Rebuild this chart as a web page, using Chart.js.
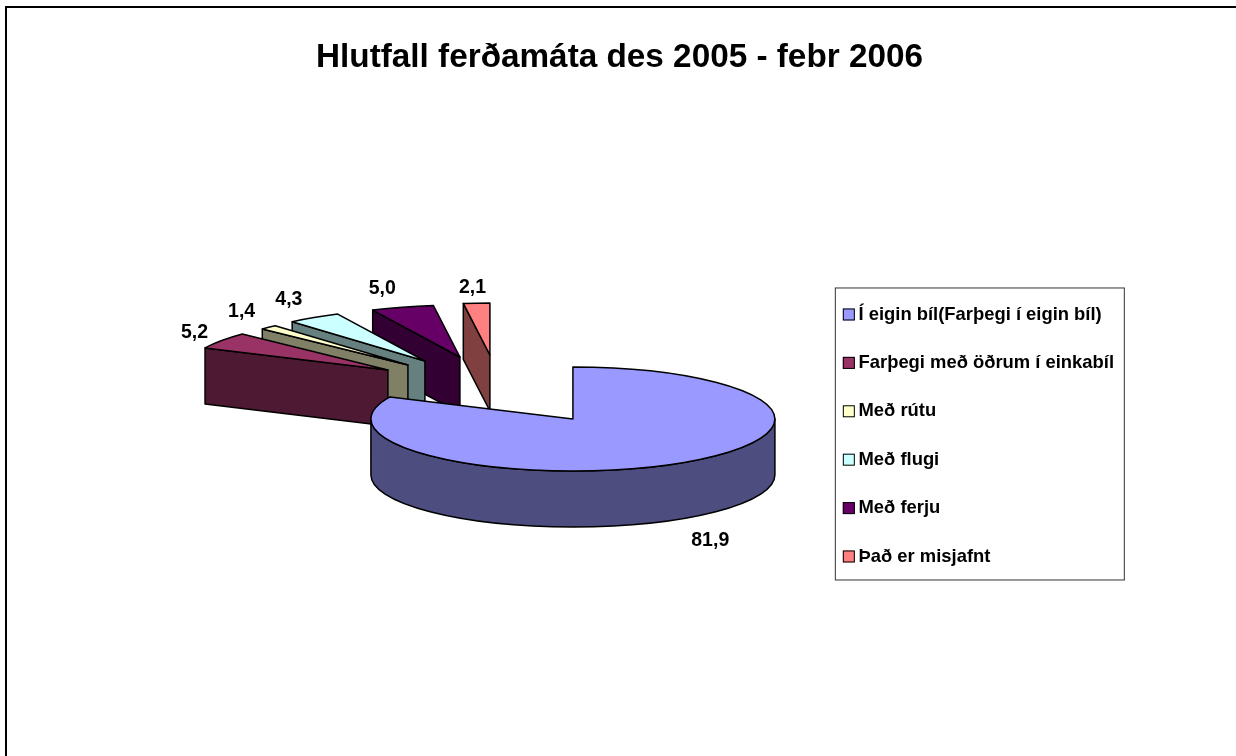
<!DOCTYPE html>
<html>
<head>
<meta charset="utf-8">
<style>
  html, body { margin: 0; padding: 0; background: #fff; }
  #wrap { width: 1236px; height: 756px; }
</style>
<script src="https://cdn.jsdelivr.net/npm/chart.js@4"></script>
</head>
<body>
<div id="wrap"><canvas id="myChart" width="1236" height="756"></canvas></div>
<script>
const categories = ['Í eigin bíl(Farþegi í eigin bíl)', 'Farþegi með öðrum í einkabíl', 'Með rútu', 'Með flugi', 'Með ferju', 'Það er misjafnt'];
const shares = [81.9, 5.2, 1.4, 4.3, 5.0, 2.1];
const chartTitle = 'Hlutfall ferðamáta des 2005 - febr 2006';

const topColors = ['#9999FF', '#993366', '#FFFFCC', '#CCFFFF', '#660066', '#FF8080'];
const sideColors = ['#4D4D80', '#4D1933', '#808066', '#668080', '#330033', '#804040'];

// look of the tilted pie
const tilt = 0.2575;
const depth = 56;
const liftY = -16.5; // top face sits above the middle of the chart area
const explodeX = [0, -185, -165, -148, -113, -83];
const explodeY = [0, -49, -54, -58, -62, -64];
const labelDx = [29, -27, -27, -25, -20, -4];
const labelDy = [22, -7.5, -16, -18, -19, -15.5];

const FONT = '"Liberation Sans", Arial, sans-serif';

const pie3d = {
    id: 'pie3d',
    afterLayout(chart) {
        // title is centred on the whole page, not on the padded area
        chart.titleBlock.left = 0;
        chart.titleBlock.right = chart.width + 3;
    },
    beforeDraw(chart) {
        const ctx = chart.ctx;
        ctx.save();
        ctx.fillStyle = '#fff';
        ctx.fillRect(0, 0, chart.width, chart.height);
        // the page only shows the top and left edge of the frame
        ctx.fillStyle = '#000';
        ctx.fillRect(5, 6, chart.width - 5, 2);
        ctx.fillRect(5, 6, 2, chart.height - 6);
        // legend frame and swatches
        const boxes = chart.legend.legendHitBoxes;
        const first = boxes[0], last = boxes[boxes.length - 1];
        const y0 = first.top + first.height / 2 - 27;
        const y1 = last.top + last.height / 2 + 23;
        ctx.lineWidth = 1;
        ctx.strokeStyle = '#333';
        ctx.strokeRect(first.left - 8 + 0.5, y0 + 0.5, 289, y1 - y0);
        ctx.strokeStyle = '#000';
        boxes.forEach(function (b, i) {
            ctx.fillStyle = topColors[i];
            ctx.fillRect(b.left, b.top + b.height / 2 - 6, 12, 12);
            ctx.strokeRect(b.left + 0.5, b.top + b.height / 2 - 5.5, 11, 11);
        });
        ctx.restore();
    },
    beforeDatasetDraw(chart, args) {
        const ctx = chart.ctx;
        const arcs = args.meta.data;
        ctx.save();
        ctx.lineWidth = 1.5;
        ctx.strokeStyle = '#000';
        ctx.lineJoin = 'round';
        // back to front, the big slice goes last
        for (let i = arcs.length - 1; i >= 0; i--) {
            const arc = arcs[i];
            const cx = arc.x + explodeX[i];
            const cy = arc.y + liftY + explodeY[i];
            const rx = arc.outerRadius;
            const ry = rx * tilt;
            const a0 = arc.startAngle;
            const a1 = arc.endAngle;

            // cut face along the starting edge, only seen on the left half
            if (Math.cos(a0) < -0.01) {
                const ox = cx + rx * Math.cos(a0);
                const oy = cy + ry * Math.sin(a0);
                ctx.beginPath();
                ctx.moveTo(cx, cy);
                ctx.lineTo(ox, oy);
                ctx.lineTo(ox, oy + depth);
                ctx.lineTo(cx, cy + depth);
                ctx.closePath();
                ctx.fillStyle = sideColors[i];
                ctx.fill();
                ctx.stroke();
            }

            // rim, only the front half shows
            const r0 = Math.max(a0, 0);
            const r1 = Math.min(a1, Math.PI);
            if (r1 > r0) {
                ctx.beginPath();
                ctx.ellipse(cx, cy, rx, ry, 0, r0, r1);
                ctx.ellipse(cx, cy + depth, rx, ry, 0, r1, r0, true);
                ctx.closePath();
                ctx.fillStyle = sideColors[i];
                ctx.fill();
                ctx.stroke();
            }

            // top face
            ctx.beginPath();
            ctx.moveTo(cx, cy);
            ctx.ellipse(cx, cy, rx, ry, 0, a0, a1);
            ctx.closePath();
            ctx.fillStyle = topColors[i];
            ctx.fill();
            ctx.stroke();
        }

        // value labels
        ctx.fillStyle = '#000';
        ctx.font = 'bold 19.5px ' + FONT;
        ctx.textAlign = 'center';
        ctx.textBaseline = 'middle';
        arcs.forEach(function (arc, i) {
            const mid = (arc.startAngle + arc.endAngle) / 2;
            const rx = arc.outerRadius;
            const bottom = Math.sin(mid) > 0 ? depth : 0;
            const x = arc.x + explodeX[i] + rx * Math.cos(mid) + labelDx[i];
            const y = arc.y + liftY + explodeY[i] + rx * tilt * Math.sin(mid) + bottom + labelDy[i];
            ctx.fillText(shares[i].toFixed(1).replace('.', ','), x, y);
        });
        ctx.restore();
        return false; // default flat arcs not wanted
    }
};

const ctx = document.getElementById('myChart').getContext('2d');
const myChart = new Chart(ctx, {
    type: 'pie',
    data: {
        labels: categories,
        datasets: [{
            data: shares,
            backgroundColor: topColors,
            borderWidth: 0,
            radius: 202
        }]
    },
    options: {
        responsive: false,
        animation: false,
        layout: { padding: { left: 333, right: 112, top: 0, bottom: 148 } },
        plugins: {
            tooltip: { enabled: false },
            title: {
                display: true,
                text: chartTitle,
                color: '#000',
                font: { family: FONT, size: 33.3, weight: 'bold' },
                padding: { top: 38, bottom: 185 }
            },
            legend: {
                position: 'right',
                align: 'center',
                fullSize: false,
                labels: {
                    font: { family: FONT, size: 18.4, weight: 'bold' },
                    color: '#000',
                    boxWidth: 6.5,
                    boxHeight: 11,
                    padding: 30,
                    generateLabels() {
                        return categories.map(function (name, i) {
                            return { text: name, fillStyle: 'rgba(0,0,0,0)', strokeStyle: 'rgba(0,0,0,0)', lineWidth: 0, index: i };
                        });
                    }
                }
            }
        }
    },
    plugins: [pie3d]
});
</script>
</body>
</html>
